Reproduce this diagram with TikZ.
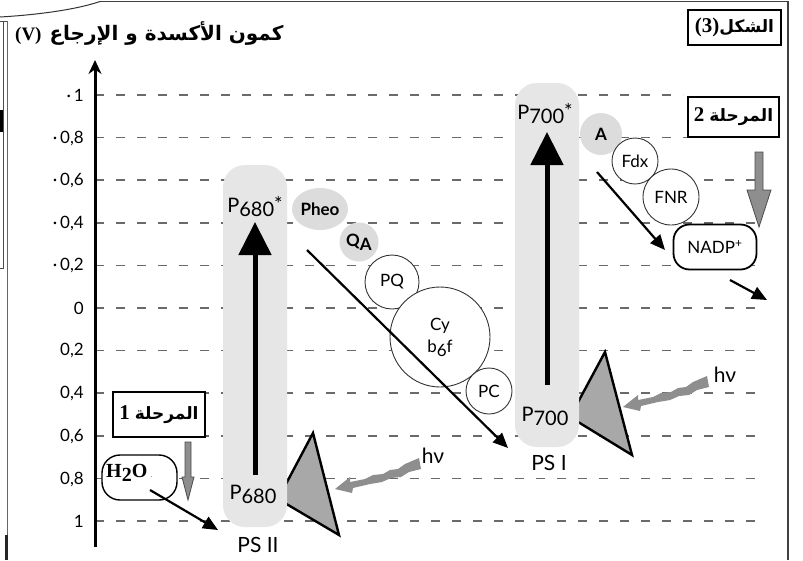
\documentclass[tikz,border=0pt]{standalone}
\usepackage{fontspec}
\setmainfont{Liberation Serif}
\newfontfamily\labelfont{Lato}
\newfontfamily\arabicfont[Script=Arabic]{DejaVu Sans}
\TeXXeTstate=1
\usetikzlibrary{arrows.meta,shapes.geometric}

\definecolor{colgray}{HTML}{E6E6E6}
\definecolor{blobgray}{HTML}{DCDCDC}
\definecolor{antgray}{HTML}{A8A8A8}
\definecolor{rulegray}{HTML}{6A6A6A}
\definecolor{photon}{HTML}{8E8E8E}

\tikzset{
  grid line/.style={draw=rulegray, line width=1.6pt, dash pattern=on 9pt off 12pt},
  column/.style={rectangle, fill=colgray, rounded corners=22pt, inner sep=0pt},
  lbl/.style={font=\labelfont\fontsize{20}{20}\selectfont, inner sep=0pt},
  tick/.style={font=\labelfont\fontsize{17}{17}\selectfont, anchor=east, inner sep=0pt},
  carrier/.style={circle, draw=black!80, line width=0.9pt, fill=white,
    font=\labelfont\fontsize{17}{17}\selectfont, inner sep=0pt},
  graycarrier/.style={fill=blobgray, font=\labelfont\bfseries\fontsize{17}{17}\selectfont, inner sep=0pt},
  flow/.style={draw=black, line width=2.2pt, -{Triangle[length=15pt,width=13pt]}},
  rise/.style={draw=black, line width=5pt, -{Triangle[length=33pt,width=32pt]}},
  axis/.style={draw=black, line width=3pt, -{Stealth[length=14pt,width=13pt]}},
  antenna/.style={fill=antgray, draw=black, line width=2.4pt, line join=miter},
  stagebox/.style={rectangle, draw=black, line width=1.4pt, fill=white, inner sep=0pt,
    font=\fontsize{21}{21}\selectfont\bfseries},
  arabictag/.style={},
  downarrow/.style={fill=photon, draw=black!70, line width=0.8pt},
  photon arrow/.pic={
    \fill[photon] (0,0) -- (15,-12) -- (15,-7) -- (30,-10) -- (38,-14) -- (48,-15)
      -- (55,-19) -- (63,-20) -- (70,-25) -- (84,-31) -- (86,-20) -- (74,-17)
      -- (66,-12) -- (56,-11) -- (47,-7) -- (35,-5) -- (18,-1) -- (17,4) -- cycle;
  },
}
\newcommand\arb[1]{{\arabicfont\bfseries\fontsize{17}{17}\selectfont\beginR #1\endR}}

\begin{document}
\begin{tikzpicture}[x=1pt,y=-1pt]
\useasboundingbox (0,0) rectangle (803,560);
\fill[white] (0,0) rectangle (803,560);

% outer frame and edge strokes
\draw[line width=1.2pt, black!75] (100,1.5) -- (788,1.5) -- (788,560);
\draw[line width=1pt, black!80] (0,17) .. controls (35,15) and (75,10) .. (100,1.5);
\draw[line width=0.8pt, black!70] (0,21) -- (8,21);
\draw[line width=0.8pt, black!70] (3.5,21) -- (3.5,268) -- (0,268);
\draw[line width=0.8pt, black!60] (7.5,21) -- (7.5,560);
\fill[black] (0,110) rectangle (3,132);
\fill[black!85] (5,535) rectangle (8,560);

% potential grid
\foreach \k in {1,...,10} {
  \draw[grid line] (95,{95+42.6*\k}) -- (765,{95+42.6*\k});
}
\draw[grid line] (95,95) -- (683,95);

% axis
\coordinate (axisfoot) at (95,547);
\coordinate (axistop) at (95,60);
\draw[axis] (axisfoot) -- (axistop);

% tick labels
\node[tick] (tm10) at (84,95)  {·\,1};
\node[tick] (tm08) at (84,138) {·\,0,8};
\node[tick] (tm06) at (84,180) {·\,0,6};
\node[tick] (tm04) at (84,223) {·\,0,4};
\node[tick] (tm02) at (84,265) {·\,0,2};
\node[tick] (t00)  at (84,308) {0};
\node[tick] (tp02) at (84,350) {0,2};
\node[tick] (tp04) at (84,393) {0,4};
\node[tick] (tp06) at (84,436) {0,6};
\node[tick] (tp08) at (84,479) {0,8};
\node[tick] (tp10) at (84,521) {1};

% title and figure tag
\node[anchor=west, inner sep=0pt, font=\fontsize{19}{19}\selectfont\bfseries] (title) at (15,33)
  {(V)\hspace{8pt}{\arabicfont\bfseries\fontsize{20}{20}\selectfont\beginR كمون الأكسدة و الإرجاع\endR}};
\node[stagebox, minimum width=93pt, minimum height=35pt] (fig) at (734.5,27.5)
  {(3)\arb{الشكل}};

% antenna triangles
\draw[antenna] (313,433) -- (339,535) -- (278,499) -- cycle;
\draw[antenna] (605,352) -- (632,455) -- (570,417) -- cycle;

% photosystem columns
\node[column, minimum width=64pt, minimum height=362pt] (col2) at (255,346) {};
\node[column, minimum width=64pt, minimum height=364pt] (col1) at (547,265) {};

% PS II
\node[lbl] (p680s) at (255,207) {P\raisebox{-4pt}{680}\raisebox{1pt}{*}};
\node[lbl] (p680) at (253,494) {P\raisebox{-4pt}{680}};
\node[lbl, font=\labelfont\fontsize{21}{21}\selectfont] (ps2) at (258,545) {PS II};
\coordinate (r2a) at (255,475);
\coordinate (r2b) at (255,222);
\draw[rise] (r2a) -- (r2b);

% PS I
\node[lbl] (p700s) at (545,114) {P\raisebox{-4pt}{700}\raisebox{1pt}{*}};
\node[lbl] (p700) at (545,416) {P\raisebox{-4pt}{700}};
\node[lbl, font=\labelfont\fontsize{21}{21}\selectfont] (ps1) at (549,463) {PS I};
\coordinate (r1a) at (547,385);
\coordinate (r1b) at (547,132);
\draw[rise] (r1a) -- (r1b);

% carriers between the photosystems
\node[graycarrier, ellipse, minimum width=56pt, minimum height=42pt] (pheo) at (320,209) {Pheo};
\node[graycarrier, circle, minimum size=39pt] (qa) at (359,242) {Q\raisebox{-4pt}{A}};
\node[carrier, minimum size=54pt] (pq) at (392,282) {PQ};
\node[carrier, minimum size=100pt, align=center] (cyt) at (440,337) {Cy\\[5pt]b\raisebox{-4pt}{6}f};
\node[carrier, minimum size=46pt] (pc) at (489,391) {PC};

% carriers after PS I
\node[graycarrier, circle, minimum size=42pt] (fa) at (601,134) {A};
\node[carrier, minimum size=46pt] (fdx) at (635,161) {Fdx};
\node[carrier, minimum size=56pt] (fnr) at (671,197) {FNR};
\node[rectangle, rounded corners=16pt, draw=black, line width=1.8pt, fill=white,
      minimum width=83pt, minimum height=45pt, inner sep=0pt,
      font=\labelfont\fontsize{17}{17}\selectfont] (nadp) at (715,247) {NADP\textsuperscript{+}};

% electron flow
\coordinate (e1a) at (307,250);
\coordinate (e1b) at (508,448);
\draw[flow] (e1a) -- (e1b);
\coordinate (e2a) at (597,172);
\coordinate (e2b) at (665,250);
\draw[flow] (e2a) -- (e2b);
\coordinate (e3a) at (730,280);
\coordinate (e3b) at (767,300);
\draw[flow] (e3a) -- (e3b);

% water
\node[rectangle, rounded corners=18pt, draw=black, line width=1.4pt, fill=white,
      minimum width=75pt, minimum height=45pt, inner sep=0pt] (water) at (139.5,477.5) {};
\node[anchor=west, inner sep=0pt, font=\fontsize{20}{20}\selectfont\bfseries] (watertxt) at (106,473)
  {H\raisebox{-4pt}{2}O\hspace{3pt}{\mdseries\color{black!50}\small.}};
\coordinate (w1) at (150,490);
\coordinate (w2) at (218,530);
\draw[flow] (w1) -- (w2);

% stage tags
\node[stagebox, minimum width=91pt, minimum height=40pt] (stage2) at (733.5,117)
  {2\hspace{5pt}\arb{المرحلة}};
\node[stagebox, minimum width=92pt, minimum height=45pt] (stage1) at (159,414.5)
  {1\hspace{5pt}\arb{المرحلة}};
\draw[downarrow] (755,152) -- (763,152) -- (763,190) -- (771,190) -- (759,227)
  -- (747,190) -- (755,190) -- cycle;
\draw[downarrow] (185,442) -- (191,442) -- (191,477) -- (194,477) -- (188,500)
  -- (182,477) -- (185,477) -- cycle;

% light
\pic at (335,489) {photon arrow};
\node[lbl, font=\labelfont\fontsize{21}{21}\selectfont] (hv2) at (433,456) {hν};
\pic at (623,407) {photon arrow};
\node[lbl, font=\labelfont\fontsize{21}{21}\selectfont] (hv1) at (725,375) {hν};
\end{tikzpicture}
\end{document}
